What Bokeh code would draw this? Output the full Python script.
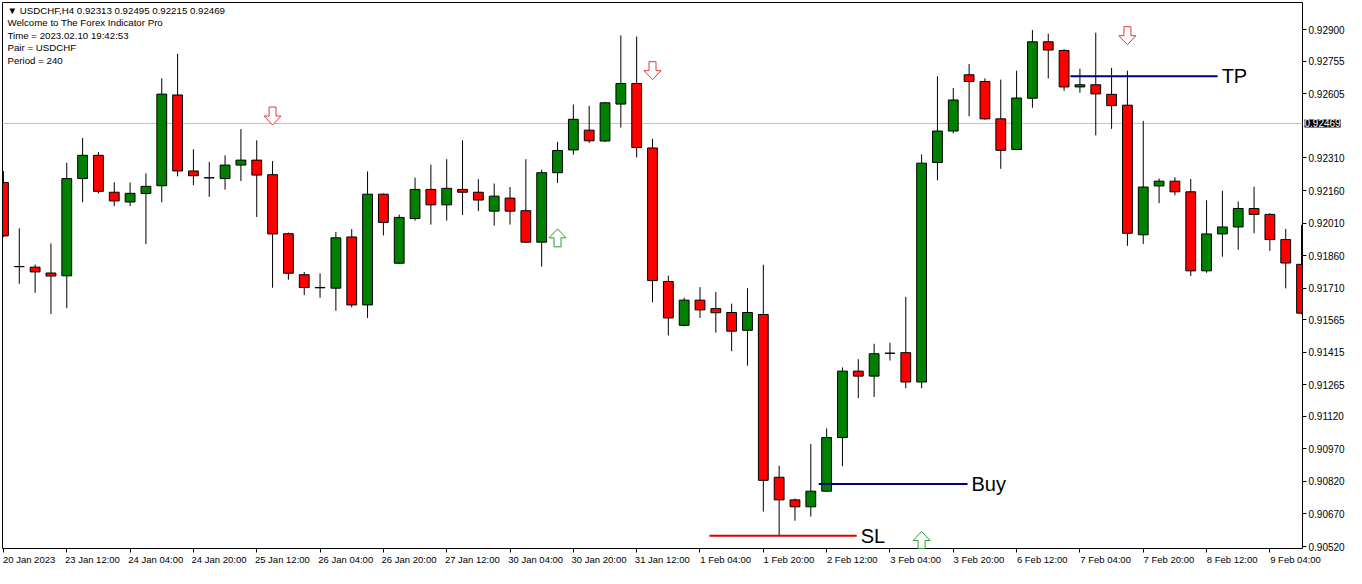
from bokeh.plotting import figure
from bokeh.models import (ColumnDataSource, FixedTicker, Label, PrintfTickFormatter,
                          Range1d, LinearAxis, BoxAnnotation)
from bokeh.core.properties import value
from bokeh.embed import file_html
from bokeh.resources import INLINE

# ---------------- data (USDCHF H4) ----------------
opens = [0.92197, 0.91810, 0.91807, 0.91780, 0.91767, 0.92215, 0.92322, 0.92152, 0.92107, 0.92146,
         0.92182, 0.92600, 0.92250, 0.92219, 0.92215, 0.92277, 0.92300, 0.92233, 0.91961, 0.91772,
         0.91713, 0.91710, 0.91946, 0.91633, 0.92143, 0.91825, 0.92031, 0.92165, 0.92094, 0.92165,
         0.92152, 0.92065, 0.92125, 0.92067, 0.91922, 0.92242, 0.92347, 0.92438, 0.92388, 0.92558,
         0.92653, 0.92356, 0.91741, 0.91539, 0.91655, 0.91616, 0.91598, 0.91516, 0.91589, 0.90839,
         0.90735, 0.90703, 0.90775, 0.91022, 0.91328, 0.91305, 0.91410, 0.91413, 0.91278, 0.92289,
         0.92434, 0.92693, 0.92662, 0.92490, 0.92349, 0.92585, 0.92845, 0.92805, 0.92637, 0.92647,
         0.92603, 0.92553, 0.91956, 0.92181, 0.92203, 0.92154, 0.91790, 0.91960, 0.91992, 0.92077,
         0.92050, 0.91934, 0.91820]
highs = [0.92249, 0.91986, 0.91819, 0.91916, 0.92288, 0.92402, 0.92337, 0.92198, 0.92197, 0.92239,
         0.92677, 0.92789, 0.92350, 0.92292, 0.92322, 0.92443, 0.92391, 0.92296, 0.91966, 0.91785,
         0.91778, 0.91969, 0.91982, 0.92248, 0.92146, 0.92049, 0.92219, 0.92279, 0.92304, 0.92391,
         0.92212, 0.92192, 0.92176, 0.92304, 0.92256, 0.92384, 0.92556, 0.92550, 0.92568, 0.92874,
         0.92869, 0.92398, 0.91768, 0.91666, 0.91715, 0.91693, 0.91639, 0.91710, 0.91818, 0.90892,
         0.90741, 0.90992, 0.91064, 0.91345, 0.91383, 0.91454, 0.91459, 0.91670, 0.92326, 0.92686,
         0.92632, 0.92743, 0.92677, 0.92671, 0.92712, 0.92899, 0.92882, 0.92811, 0.92721, 0.92887,
         0.92725, 0.92712, 0.92481, 0.92215, 0.92221, 0.92213, 0.92115, 0.92159, 0.92109, 0.92177,
         0.92055, 0.91983, 0.92002]
lows = [0.91945, 0.91730, 0.91689, 0.91591, 0.91618, 0.92106, 0.92146, 0.92088, 0.92088, 0.91913,
        0.92106, 0.92225, 0.92185, 0.92131, 0.92164, 0.92204, 0.92038, 0.91712, 0.91749, 0.91678,
        0.91666, 0.91606, 0.91622, 0.91573, 0.91953, 0.91822, 0.92021, 0.92003, 0.92021, 0.92047,
        0.92065, 0.91998, 0.92003, 0.91919, 0.91809, 0.92195, 0.92325, 0.92379, 0.92383, 0.92450,
        0.92312, 0.91645, 0.91492, 0.91534, 0.91573, 0.91505, 0.91420, 0.91353, 0.90681, 0.90573,
        0.90639, 0.90658, 0.90772, 0.90890, 0.91204, 0.91209, 0.91377, 0.91249, 0.91249, 0.92207,
        0.92423, 0.92502, 0.92486, 0.92260, 0.92346, 0.92541, 0.92676, 0.92619, 0.92610, 0.92414,
        0.92444, 0.91905, 0.91914, 0.92102, 0.92138, 0.91766, 0.91781, 0.91855, 0.91887, 0.91963,
        0.91882, 0.91709, 0.91590]
closes = [0.91951, 0.91809, 0.91785, 0.91766, 0.92215, 0.92322, 0.92156, 0.92112, 0.92147, 0.92179,
          0.92604, 0.92250, 0.92228, 0.92218, 0.92277, 0.92300, 0.92231, 0.91960, 0.91779, 0.91713,
          0.91712, 0.91942, 0.91633, 0.92143, 0.92013, 0.92036, 0.92165, 0.92094, 0.92170, 0.92152,
          0.92116, 0.92134, 0.92065, 0.91922, 0.92242, 0.92344, 0.92488, 0.92389, 0.92564, 0.92653,
          0.92358, 0.91745, 0.91573, 0.91655, 0.91610, 0.91597, 0.91512, 0.91598, 0.90825, 0.90735,
          0.90703, 0.90775, 0.91022, 0.91328, 0.91305, 0.91408, 0.91411, 0.91278, 0.92286, 0.92434,
          0.92577, 0.92662, 0.92490, 0.92345, 0.92586, 0.92845, 0.92807, 0.92637, 0.92647, 0.92605,
          0.92551, 0.91963, 0.92176, 0.92203, 0.92154, 0.91790, 0.91960, 0.91992, 0.92077, 0.92050,
          0.91934, 0.91826, 0.91595]

date_labels = ["20 Jan 2023", "23 Jan 12:00", "24 Jan 04:00", "24 Jan 20:00", "25 Jan 12:00",
               "26 Jan 04:00", "26 Jan 20:00", "27 Jan 12:00", "30 Jan 04:00", "30 Jan 20:00",
               "31 Jan 12:00", "1 Feb 04:00", "1 Feb 20:00", "2 Feb 12:00", "3 Feb 04:00",
               "3 Feb 20:00", "6 Feb 12:00", "7 Feb 04:00", "7 Feb 20:00", "8 Feb 12:00",
               "9 Feb 04:00"]
bars_per_label = 4
price_ticks = [0.92900, 0.92755, 0.92605, 0.92310, 0.92160, 0.92010, 0.91860, 0.91710,
               0.91565, 0.91415, 0.91265, 0.91120, 0.90970, 0.90820, 0.90670, 0.90520]
last_price = 0.92469

level_names = ["TP", "Buy", "SL"]
level_prices = [0.92686, 0.90808, 0.90570]
level_start = [67.4, 51.5, 44.6]
level_end = [76.7, 60.9, 53.9]
level_colors = ["#000080", "#000080", "#e00000"]

sell_bars = [17, 41, 71]
sell_prices = [0.92503, 0.92712, 0.92873]
buy_bars = [35, 58]
buy_prices = [0.91942, 0.90548]

header_lines = ["\u25bc  USDCHF,H4  0.92313 0.92495 0.92215 0.92469",
                "Welcome to The Forex Indicator Pro",
                "Time = 2023.02.10 19:42:53",
                "Pair = USDCHF",
                "Period = 240"]

# ---------------- layout (pixels) ----------------
W, H = 1346, 568
CH_L, CH_R, CH_T, CH_B = 2, 1302, 2, 548     # chart rectangle inside the canvas
X0, X1 = -0.06, 82.06                          # visible bar range
Y0, Y1 = 0.90511, 0.93026                      # visible price range
kx = (X1 - X0) / (CH_R - CH_L)                 # bars per pixel
ky = (Y1 - Y0) / (CH_B - CH_T)                 # price per pixel
FONT = "Liberation Sans"

n = len(opens)
idx = list(range(n))
half = 0.31
colors = ["#008000" if c >= o else "#ff0000" for o, c in zip(opens, closes)]
src = ColumnDataSource(dict(
    x=idx, h=highs, l=lows,
    top=[max(o, c) for o, c in zip(opens, closes)],
    bot=[min(o, c) for o, c in zip(opens, closes)],
    left=[max(i - half, X0) for i in idx],
    right=[min(i + half, X1) for i in idx],
    color=colors))

p = figure(width=W, height=H, output_backend="svg", toolbar_location=None,
           x_range=Range1d(X0 - CH_L * kx, X1 + (W - CH_R) * kx),
           y_range=Range1d(Y0 - (H - CH_B) * ky, Y1 + CH_T * ky),
           x_axis_location=None, y_axis_location=None,
           min_border_left=0, min_border_right=0, min_border_top=0, min_border_bottom=0,
           background_fill_color="white", border_fill_color="white")
p.grid.visible = False
p.outline_line_color = None

# chart border
p.add_layout(BoxAnnotation(left=X0, right=X1, bottom=Y0, top=Y1, fill_alpha=0.0,
                           line_color="black", line_alpha=1.0, line_width=1, level="underlay"))

# current price line
p.segment(x0=[X0], y0=[last_price], x1=[X1], y1=[last_price], line_color="#c0c0c0", line_width=1)

# candles
p.segment(x0="x", y0="h", x1="x", y1="l", source=src, line_color="black", line_width=1)
p.quad(left="left", right="right", top="top", bottom="bot", source=src,
       fill_color="color", line_color="black", line_width=1)

# levels
for name, pr, x0, x1, col in zip(level_names, level_prices, level_start, level_end, level_colors):
    p.segment(x0=[x0], y0=[pr], x1=[x1], y1=[pr], line_color=col, line_width=2)
    p.text(x=[x1], y=[pr], text=[name], text_font=value(FONT),
           text_font_size="20px", text_baseline="middle", text_align="left",
           x_offset=4, text_color="#000000")

# signal arrows (hollow block arrows, sized in pixels)
def arrow(cx, cy, down):
    s = 1 if down else -1
    pts = [(-3.5, -9), (3.5, -9), (3.5, 0), (8.5, 0), (0, 9), (-8.5, 0), (-3.5, 0)]
    xs = [cx + dx * kx for dx, dy in pts]
    ys = [max(cy - s * dy * ky, Y0) for dx, dy in pts]
    return xs, ys

sx, sy = zip(*[arrow(b, pr, True) for b, pr in zip(sell_bars, sell_prices)])
p.patches(xs=list(sx), ys=list(sy), fill_color="white", line_color="#e03a3a", line_width=1)
bx, by = zip(*[arrow(b, pr, False) for b, pr in zip(buy_bars, buy_prices)])
p.patches(xs=list(bx), ys=list(by), fill_color="white", line_color="#2e9a3a", line_width=1)

# time axis: tick marks at the bars, labels starting at each tick
ticks = [i * bars_per_label for i in range(len(date_labels))]
shift = 1.62
xt = LinearAxis(fixed_location=Y0, ticker=FixedTicker(ticks=ticks),
                major_tick_out=4, major_tick_in=0, major_tick_line_color="black",
                minor_tick_line_color=None, axis_line_color=None,
                major_label_text_alpha=0.0, major_label_text_font_size="1px")
p.add_layout(xt, "below")
xl = LinearAxis(fixed_location=Y0, ticker=FixedTicker(ticks=[t + shift for t in ticks]),
                major_label_overrides={t + shift: lab for t, lab in zip(ticks, date_labels)},
                major_tick_out=0, major_tick_in=0, major_tick_line_color=None,
                minor_tick_line_color=None, axis_line_color=None, major_label_standoff=5,
                major_label_text_font=FONT, major_label_text_font_size="9.5px",
                major_label_text_color="black")
p.add_layout(xl, "below")

# price axis
ya = LinearAxis(fixed_location=X1, ticker=FixedTicker(ticks=price_ticks),
                formatter=PrintfTickFormatter(format="%.5f"),
                major_tick_out=4, major_tick_in=0, major_tick_line_color="black",
                minor_tick_line_color=None, axis_line_color=None, major_label_standoff=2,
                major_label_text_font=FONT, major_label_text_font_size="10px",
                major_label_text_color="black")
p.add_layout(ya, "right")

# current price marker on the price scale
p.add_layout(Label(x=X1, y=last_price, x_offset=2, text="%.5f" % last_price,
                   text_font=FONT, text_font_size="10px", text_color="white",
                   text_baseline="middle", text_align="left",
                   background_fill_color="black", background_fill_alpha=1.0))

# header text
for i, line in enumerate(header_lines):
    p.add_layout(Label(x=X0, y=Y1, x_offset=5, y_offset=-8 - 12.4 * i, text=line,
                       text_font=FONT, text_font_size="9.7px",
                       text_color="black", text_baseline="middle", text_align="left"))

open("out.html", "w").write(file_html(p, INLINE))
